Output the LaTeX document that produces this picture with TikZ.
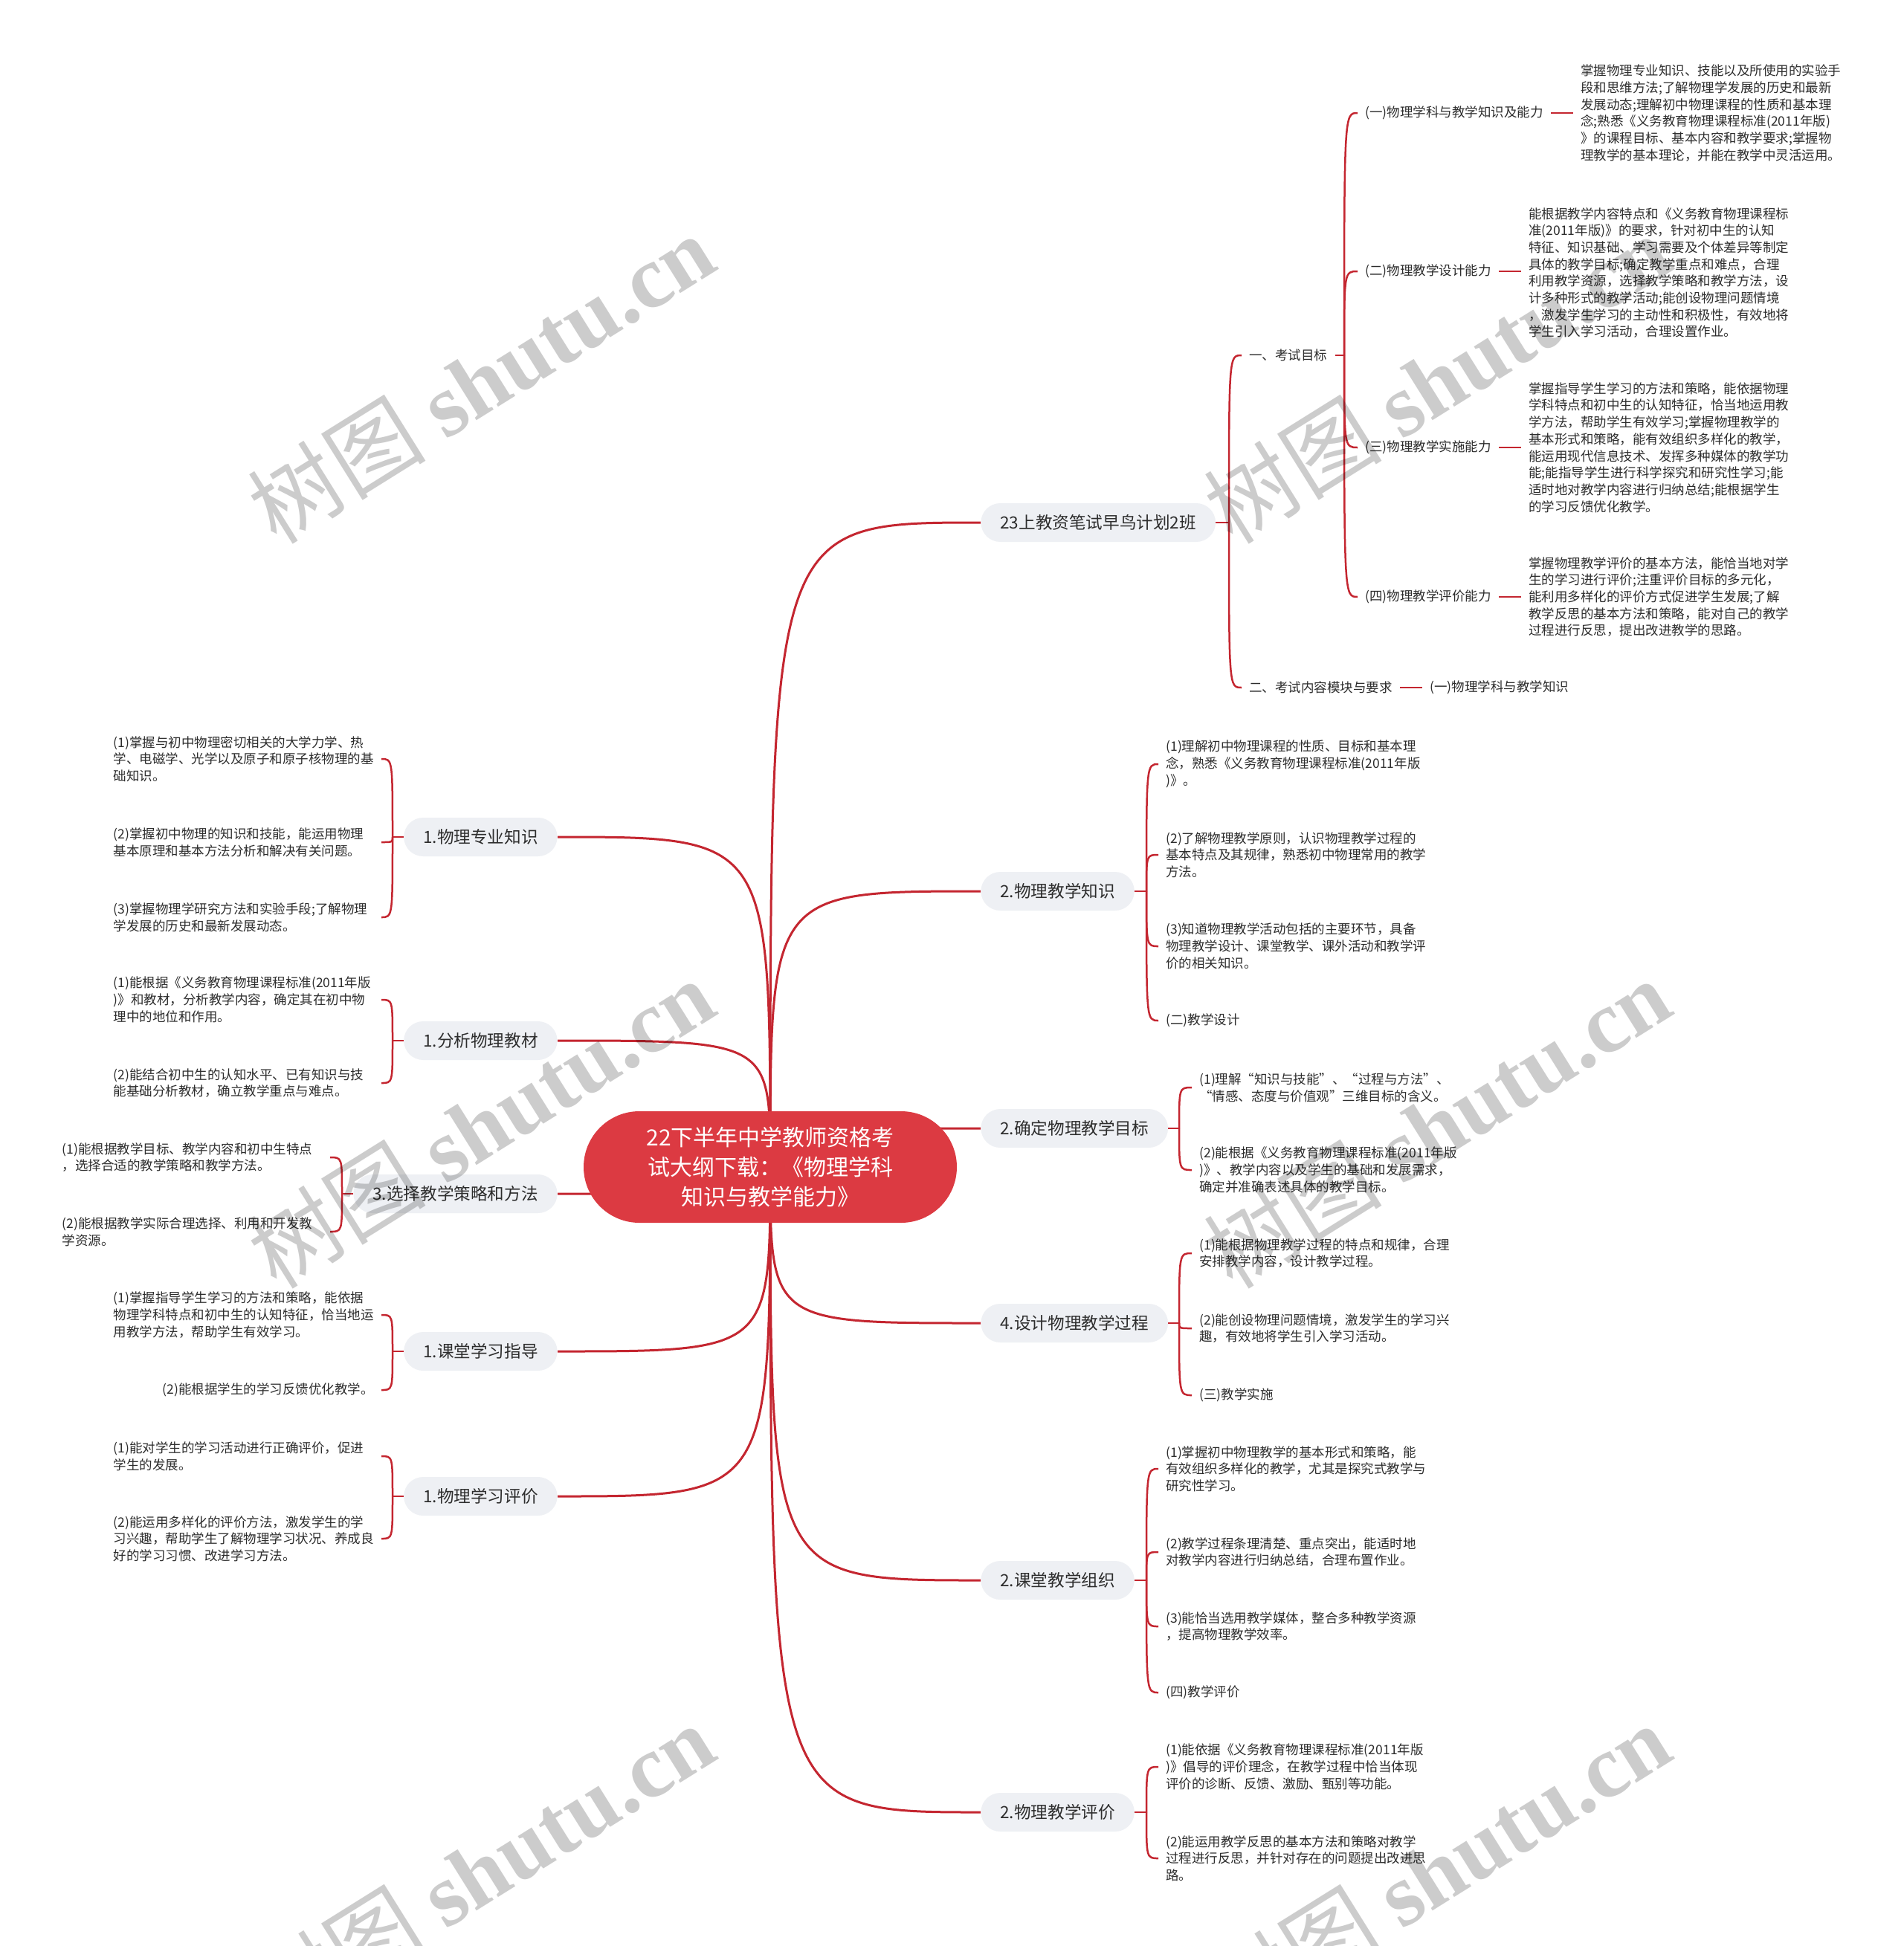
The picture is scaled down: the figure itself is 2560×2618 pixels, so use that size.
\documentclass[tikz,border=0pt]{standalone}
\usepackage{fontspec}
\setmainfont{Noto Sans CJK SC}
\newfontfamily\wmlatin{Liberation Serif}
\usetikzlibrary{calc}
\definecolor{linecol}{RGB}{196,38,48}
\definecolor{rootfill}{RGB}{220,58,66}
\definecolor{boxfill}{RGB}{238,240,244}
\definecolor{txt}{RGB}{45,45,45}
\pgfdeclarelayer{bg}
\pgfsetlayers{bg,main}
\tikzset{
  conn/.style={draw=linecol, line width=1.5pt},
  brk/.style={draw=linecol, line width=1.25pt},
  rootbox/.style={fill=rootfill, text=white, rounded corners=37.5pt, minimum width=251pt, minimum height=75pt, inner sep=0pt, align=center, font=\fontsize{15}{20}\selectfont},
  lvone/.style={fill=boxfill, text=txt, rounded corners=13pt, minimum height=26pt, inner xsep=13pt, inner ysep=0pt, font=\fontsize{11.3}{14}\selectfont},
  leaf/.style={text=txt, align=left, inner xsep=5pt, inner ysep=1pt, font=\fontsize{8.75}{11.35}\selectfont},
  leafw/.style={leaf, text width=175pt},
  wm/.style={rotate=32, text=black, text opacity=0.2, font=\fontsize{60}{60}\selectfont, inner sep=0pt}
}
\begin{document}
\begin{tikzpicture}[x=0.5pt,y=-0.5pt]
\useasboundingbox (0,0) rectangle (2560,2618);

% root
\node[rootbox] (root) at (1036,1570) {22下半年中学教师资格考\\试大纲下载：《物理学科\\知识与教学能力》};

% level one right
\node[lvone, anchor=west] (r1) at (1319,703) {23上教资笔试早鸟计划2班};
\node[lvone, anchor=west] (r2) at (1319,1199) {2.物理教学知识};
\node[lvone, anchor=west] (r3) at (1319,1518) {2.确定物理教学目标};
\node[lvone, anchor=west] (r4) at (1319,1780) {4.设计物理教学过程};
\node[lvone, anchor=west] (r5) at (1319,2126) {2.课堂教学组织};
\node[lvone, anchor=west] (r6) at (1319,2438) {2.物理教学评价};

% level one left
\node[lvone, anchor=east] (l1) at (750,1126) {1.物理专业知识};
\node[lvone, anchor=east] (l2) at (750,1400) {1.分析物理教材};
\node[lvone, anchor=east] (l3) at (750,1606) {3.选择教学策略和方法};
\node[lvone, anchor=east] (l4) at (750,1818) {1.课堂学习指导};
\node[lvone, anchor=east] (l5) at (750,2013) {1.物理学习评价};

% group r1
\node[leaf, anchor=west] (k1) at (1670,478) {一、考试目标};
\node[leaf, anchor=west] (k2) at (1670,925) {二、考试内容模块与要求};
\node[leaf, anchor=west] (k2a) at (1913,925) {(一)物理学科与教学知识};

\node[leaf, anchor=west] (a1) at (1826,152) {(一)物理学科与教学知识及能力};
\node[leaf, anchor=west] (a2) at (1826,365) {(二)物理教学设计能力};
\node[leaf, anchor=west] (a3) at (1826,602) {(三)物理教学实施能力};
\node[leaf, anchor=west] (a4) at (1826,803) {(四)物理教学评价能力};

\node[leaf, anchor=west] (p1) at (2116,152) {掌握物理专业知识、技能以及所使用的实验手\\段和思维方法;了解物理学发展的历史和最新\\发展动态;理解初中物理课程的性质和基本理\\念;熟悉《义务教育物理课程标准(2011年版)\\》的课程目标、基本内容和教学要求;掌握物\\理教学的基本理论，并能在教学中灵活运用。};
\node[leaf, anchor=west] (p2) at (2046,367) {能根据教学内容特点和《义务教育物理课程标\\准(2011年版)》的要求，针对初中生的认知\\特征、知识基础、学习需要及个体差异等制定\\具体的教学目标;确定教学重点和难点，合理\\利用教学资源，选择教学策略和教学方法，设\\计多种形式的教学活动;能创设物理问题情境\\，激发学生学习的主动性和积极性，有效地将\\学生引入学习活动，合理设置作业。};
\node[leaf, anchor=west] (p3) at (2046,602) {掌握指导学生学习的方法和策略，能依据物理\\学科特点和初中生的认知特征，恰当地运用教\\学方法，帮助学生有效学习;掌握物理教学的\\基本形式和策略，能有效组织多样化的教学，\\能运用现代信息技术、发挥多种媒体的教学功\\能;能指导学生进行科学探究和研究性学习;能\\适时地对教学内容进行归纳总结;能根据学生\\的学习反馈优化教学。};
\node[leaf, anchor=west] (p4) at (2046,803) {掌握物理教学评价的基本方法，能恰当地对学\\生的学习进行评价;注重评价目标的多元化，\\能利用多样化的评价方式促进学生发展;了解\\教学反思的基本方法和策略，能对自己的教学\\过程进行反思，提出改进教学的思路。};

% group r2
\node[leaf, anchor=west] (b1) at (1558,1028) {(1)理解初中物理课程的性质、目标和基本理\\念，熟悉《义务教育物理课程标准(2011年版\\)》。};
\node[leaf, anchor=west] (b2) at (1558,1150) {(2)了解物理教学原则，认识物理教学过程的\\基本特点及其规律，熟悉初中物理常用的教学\\方法。};
\node[leaf, anchor=west] (b3) at (1558,1273) {(3)知道物理教学活动包括的主要环节，具备\\物理教学设计、课堂教学、课外活动和教学评\\价的相关知识。};
\node[leaf, anchor=west] (b4) at (1558,1373) {(二)教学设计};

% group r3
\node[leaf, anchor=west] (c1) at (1603,1463) {(1)理解“知识与技能”、“过程与方法”、\\“情感、态度与价值观”三维目标的含义。};
\node[leaf, anchor=west] (c2) at (1603,1574) {(2)能根据《义务教育物理课程标准(2011年版\\)》、教学内容以及学生的基础和发展需求，\\确定并准确表述具体的教学目标。};

% group r4
\node[leaf, anchor=west] (d1) at (1603,1686) {(1)能根据物理教学过程的特点和规律，合理\\安排教学内容，设计教学过程。};
\node[leaf, anchor=west] (d2) at (1603,1787) {(2)能创设物理问题情境，激发学生的学习兴\\趣，有效地将学生引入学习活动。};
\node[leaf, anchor=west] (d3) at (1603,1877) {(三)教学实施};

% group r5
\node[leaf, anchor=west] (e1) at (1558,1976) {(1)掌握初中物理教学的基本形式和策略，能\\有效组织多样化的教学，尤其是探究式教学与\\研究性学习。};
\node[leaf, anchor=west] (e2) at (1558,2088) {(2)教学过程条理清楚、重点突出，能适时地\\对教学内容进行归纳总结，合理布置作业。};
\node[leaf, anchor=west] (e3) at (1558,2188) {(3)能恰当选用教学媒体，整合多种教学资源\\，提高物理教学效率。};
\node[leaf, anchor=west] (e4) at (1558,2277) {(四)教学评价};

% group r6
\node[leaf, anchor=west] (f1) at (1558,2377) {(1)能依据《义务教育物理课程标准(2011年版\\)》倡导的评价理念，在教学过程中恰当体现\\评价的诊断、反馈、激励、甄别等功能。};
\node[leaf, anchor=west] (f2) at (1558,2500) {(2)能运用教学反思的基本方法和策略对教学\\过程进行反思，并针对存在的问题提出改进思\\路。};

% group l1
\node[leafw, anchor=east] (g1) at (513,1021) {(1)掌握与初中物理密切相关的大学力学、热\\学、电磁学、光学以及原子和原子核物理的基\\础知识。};
\node[leafw, anchor=east] (g2) at (513,1133) {(2)掌握初中物理的知识和技能，能运用物理\\基本原理和基本方法分析和解决有关问题。};
\node[leafw, anchor=east] (g3) at (513,1234) {(3)掌握物理学研究方法和实验手段;了解物理\\学发展的历史和最新发展动态。};

% group l2
\node[leafw, anchor=east] (h1) at (513,1345) {(1)能根据《义务教育物理课程标准(2011年版\\)》和教材，分析教学内容，确定其在初中物\\理中的地位和作用。};
\node[leafw, anchor=east] (h2) at (513,1457) {(2)能结合初中生的认知水平、已有知识与技\\能基础分析教材，确立教学重点与难点。};

% group l3
\node[leafw, anchor=east] (i1) at (444,1557) {(1)能根据教学目标、教学内容和初中生特点\\，选择合适的教学策略和教学方法。};
\node[leafw, anchor=east] (i2) at (444,1657) {(2)能根据教学实际合理选择、利用和开发教\\学资源。};

% group l4
\node[leafw, anchor=east] (m1) at (513,1769) {(1)掌握指导学生学习的方法和策略，能依据\\物理学科特点和初中生的认知特征，恰当地运\\用教学方法，帮助学生有效学习。};
\node[leaf, anchor=east] (m2) at (513,1870) {(2)能根据学生的学习反馈优化教学。};

% group l5
\node[leafw, anchor=east] (q1) at (513,1959) {(1)能对学生的学习活动进行正确评价，促进\\学生的发展。};
\node[leafw, anchor=east] (q2) at (513,2070) {(2)能运用多样化的评价方法，激发学生的学\\习兴趣，帮助学生了解物理学习状况、养成良\\好的学习习惯、改进学习方法。};

% junctions
\coordinate (jr1) at (1653,703);
\coordinate (jk1) at (1808,478);
\coordinate (jr2) at (1542,1199);
\coordinate (jr3) at (1586,1518);
\coordinate (jr4) at (1586,1780);
\coordinate (jr5) at (1542,2126);
\coordinate (jr6) at (1542,2438);
\coordinate (jl1) at (528,1126);
\coordinate (jl2) at (528,1400);
\coordinate (jl3) at (460,1606);
\coordinate (jl4) at (528,1818);
\coordinate (jl5) at (528,2013);

\begin{pgfonlayer}{bg}
\fill[white] (0,0) rectangle (2560,2618);
\foreach \n in {r1,r2,r3,r4,r5,r6}
  \draw[conn] (root.center) .. controls (root.center |- \n.west) .. (\n.west);
\foreach \n in {l1,l2,l3,l4,l5}
  \draw[conn] (root.center) .. controls (root.center |- \n.east) .. (\n.east);
% right brackets
\draw[brk] (r1.east) -- (jr1);
\foreach \c in {k1,k2} \draw[brk] (jr1) .. controls (jr1 |- \c.west) .. (\c.west);
\draw[brk] (k1.east) -- (jk1);
\foreach \c in {a1,a2,a3,a4} \draw[brk] (jk1) .. controls (jk1 |- \c.west) .. (\c.west);
\draw[brk] (a1.east) -- (p1.west);
\draw[brk] (a2.east) -- (a2.east -| p2.west);
\draw[brk] (a3.east) -- (p3.west);
\draw[brk] (a4.east) -- (p4.west);
\draw[brk] (k2.east) -- (k2a.west);
\draw[brk] (r2.east) -- (jr2);
\foreach \c in {b1,b2,b3,b4} \draw[brk] (jr2) .. controls (jr2 |- \c.west) .. (\c.west);
\draw[brk] (r3.east) -- (jr3);
\foreach \c in {c1,c2} \draw[brk] (jr3) .. controls (jr3 |- \c.west) .. (\c.west);
\draw[brk] (r4.east) -- (jr4);
\foreach \c in {d1,d2,d3} \draw[brk] (jr4) .. controls (jr4 |- \c.west) .. (\c.west);
\draw[brk] (r5.east) -- (jr5);
\foreach \c in {e1,e2,e3,e4} \draw[brk] (jr5) .. controls (jr5 |- \c.west) .. (\c.west);
\draw[brk] (r6.east) -- (jr6);
\foreach \c in {f1,f2} \draw[brk] (jr6) .. controls (jr6 |- \c.west) .. (\c.west);
% left brackets
\draw[brk] (l1.west) -- (jl1);
\foreach \c in {g1,g2,g3} \draw[brk] (jl1) .. controls (jl1 |- \c.east) .. (\c.east);
\draw[brk] (l2.west) -- (jl2);
\foreach \c in {h1,h2} \draw[brk] (jl2) .. controls (jl2 |- \c.east) .. (\c.east);
\draw[brk] (l3.west) -- (jl3);
\foreach \c in {i1,i2} \draw[brk] (jl3) .. controls (jl3 |- \c.east) .. (\c.east);
\draw[brk] (l4.west) -- (jl4);
\foreach \c in {m1,m2} \draw[brk] (jl4) .. controls (jl4 |- \c.east) .. (\c.east);
\draw[brk] (l5.west) -- (jl5);
\foreach \c in {q1,q2} \draw[brk] (jl5) .. controls (jl5 |- \c.east) .. (\c.east);
\end{pgfonlayer}

% watermarks
\foreach \p [count=\i] in {(647,509),(1933,509),(647,1511),(1933,1511),(647,2513),(1933,2513)}
  \node[wm] (wm\i) at \p {树图 {\wmlatin\bfseries shutu.cn}};
\end{tikzpicture}
\end{document}
